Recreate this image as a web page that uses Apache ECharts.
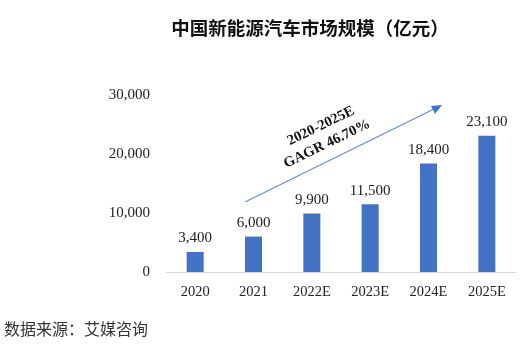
<!DOCTYPE html>
<html><head><meta charset="utf-8">
<script src="https://cdn.jsdelivr.net/npm/echarts@6/dist/echarts.min.js"></script>
<style>html,body{margin:0;padding:0;background:#fff}#c{width:523px;height:355px}</style>
</head><body><div id="c"></div>
<script>
const categories = ['2020','2021','2022E','2023E','2024E','2025E'];
const values = [3400, 6000, 9900, 11500, 18400, 23100];
const yTicks = [0, 10000, 20000, 30000];
const titleText = '中国新能源汽车市场规模（亿元）';
const sourceText = '数据来源：艾媒咨询';
const cagrLines = ['2020-2025E', 'GAGR 46.70%'];

const fmt = v => v.toLocaleString('en-US');
const chart = echarts.init(document.getElementById('c'), null, {renderer:'canvas'});
const serif = '"Liberation Serif", "Times New Roman", serif';
chart.setOption({
  animation:false,
  title:{text:titleText,left:305,top:14,textAlign:'center',
    textStyle:{fontFamily:'"Noto Sans CJK SC"',fontSize:18.5,fontWeight:'bold',color:'#111'}},
  grid:{left:166,right:7,top:95,bottom:83},
  xAxis:{type:'category',data:categories,
    axisLine:{lineStyle:{color:'#d9d9d9'}},axisTick:{show:false},
    axisLabel:{fontFamily:serif,fontSize:14.5,color:'#222',margin:13}},
  yAxis:{type:'value',min:yTicks[0],max:yTicks[yTicks.length-1],interval:10000,
    splitLine:{show:false},axisLine:{show:false},axisTick:{show:false},
    axisLabel:{fontFamily:serif,fontSize:15,color:'#222',margin:16,formatter:v=>fmt(v)}},
  series:[{type:'bar',data:values,barWidth:17,
    itemStyle:{color:'#4472C4'},
    label:{show:true,position:'top',distance:6,fontFamily:serif,fontSize:15,color:'#222',
      formatter:p=>fmt(p.value)}}],
  graphic:[
    {type:'line',shape:{x1:245,y1:202,x2:436,y2:108},style:{stroke:'#5B8FD6',lineWidth:1.2}},
    {type:'polygon',shape:{points:[[442,105],[431,106],[435,114]]},style:{fill:'#4472C4'}},
    {type:'text',x:321,y:126,rotation:26*Math.PI/180,
      style:{text:cagrLines[0],fontFamily:serif,fontWeight:'bold',fontSize:14.5,fill:'#111',align:'center',verticalAlign:'middle'}},
    {type:'text',x:327,y:144,rotation:26*Math.PI/180,
      style:{text:cagrLines[1],fontFamily:serif,fontWeight:'bold',fontSize:14.5,fill:'#111',align:'center',verticalAlign:'middle'}},
    {type:'text',left:4,top:321,
      style:{text:sourceText,fontFamily:'"Noto Sans CJK SC"',fontSize:16,fill:'#333'}}
  ]
});
</script></body></html>
